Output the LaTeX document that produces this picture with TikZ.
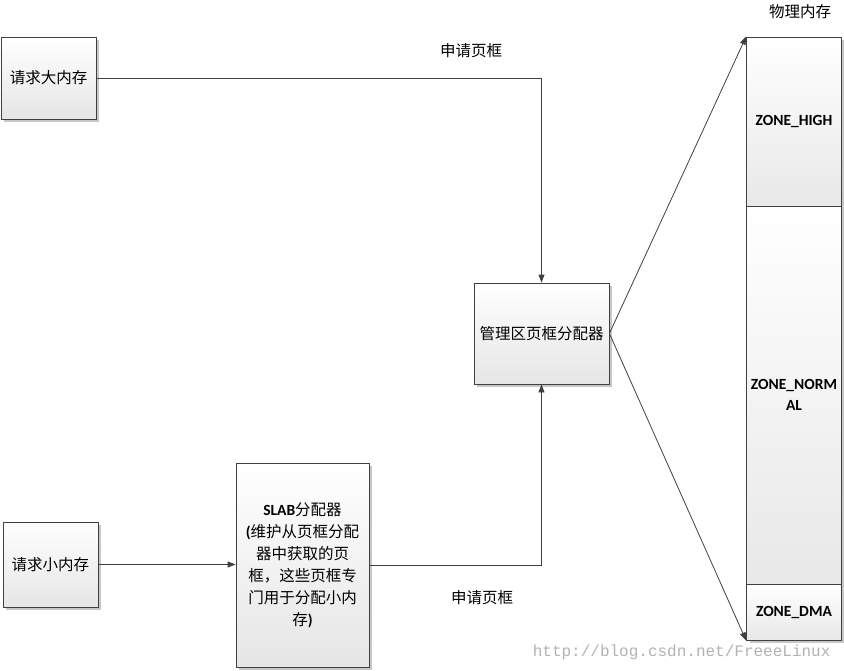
\documentclass[tikz,border=0pt]{standalone}
\usepackage{fontspec}
\setmainfont{Carlito}
\newfontfamily\cjk{Noto Sans CJK SC}
\newfontfamily\wmfont{Liberation Mono}
\usepackage{tikz}
\usetikzlibrary{arrows.meta,shadows}

\tikzset{
  box/.style={draw=black!75, line width=0.8pt, top color=white, bottom color=black!10,
    drop shadow={shadow xshift=2.5pt, shadow yshift=-2.5pt, fill=black!22, opacity=1},
    align=center, inner sep=2pt, font=\fontsize{15.5}{22}\selectfont},
  zone/.style={draw=black!75, line width=0.8pt, top color=white, bottom color=black!9,
    minimum width=95pt, align=center, inner sep=0pt, font=\fontsize{15.5}{21}\selectfont\bfseries},
  link/.style={draw=black!75, line width=0.8pt, -{Triangle[length=8pt,width=6pt]}},
  note/.style={font=\fontsize{15.5}{18}\selectfont\cjk}
}

\begin{document}
\begin{tikzpicture}[x=1pt,y=-1pt]
        \useasboundingbox (0,0) rectangle (844,670);
        % requests and allocators
        \node[box, minimum width=95pt, minimum height=82pt] (bigreq) at (48.5,78) {\cjk 请求大内存};
        \node[box, minimum width=95pt, minimum height=85pt] (smallreq) at (50.5,564.5) {\cjk 请求小内存};
        \node[box, minimum width=133pt, minimum height=204pt] (slab) at (302.5,565)
          {{\bfseries SLAB}{\cjk 分配器}\\{\bfseries(}{\cjk 维护从页框分配}\\{\cjk 器中获取的页}\\{\cjk 框，这些页框专}\\{\cjk 门用于分配小内}\\{\cjk 存}{\bfseries)}};
        \node[box, minimum width=135pt, minimum height=101pt] (zonealloc) at (541.5,333.5) {\cjk 管理区页框分配器};
        % physical memory
        \fill[black!22] (749.5,39.5) rectangle (844,643);
        \node[zone, minimum height=169pt] (high) at (794,121.5) {ZONE\_HIGH};
        \node[zone, minimum height=378pt] (normal) at (794,395) {ZONE\_NORM\\AL};
        \node[zone, minimum height=56pt] (dma) at (794,612) {ZONE\_DMA};
        \node[note] (mem) at (800,12) {物理内存};
        % connectors
        \draw[link] (bigreq.east) -| (zonealloc.north);
        \draw[link] (smallreq.east) -- (smallreq.east -| slab.west);
        \draw[link] (slab.east) -| (zonealloc.south);
        \draw[link] (zonealloc.east) -- (high.north west);
        \draw[link] (zonealloc.east) -- (dma.south west);
        \node[note] (ask1) at (471,51) {申请页框};
        \node[note] (ask2) at (482,598) {申请页框};
        \node[anchor=east, text=black!30, font=\fontsize{16}{18}\selectfont\wmfont] (mark) at (834,652) {http://blog.csdn.net/FreeeLinux};
        \end{tikzpicture}
\end{document}
